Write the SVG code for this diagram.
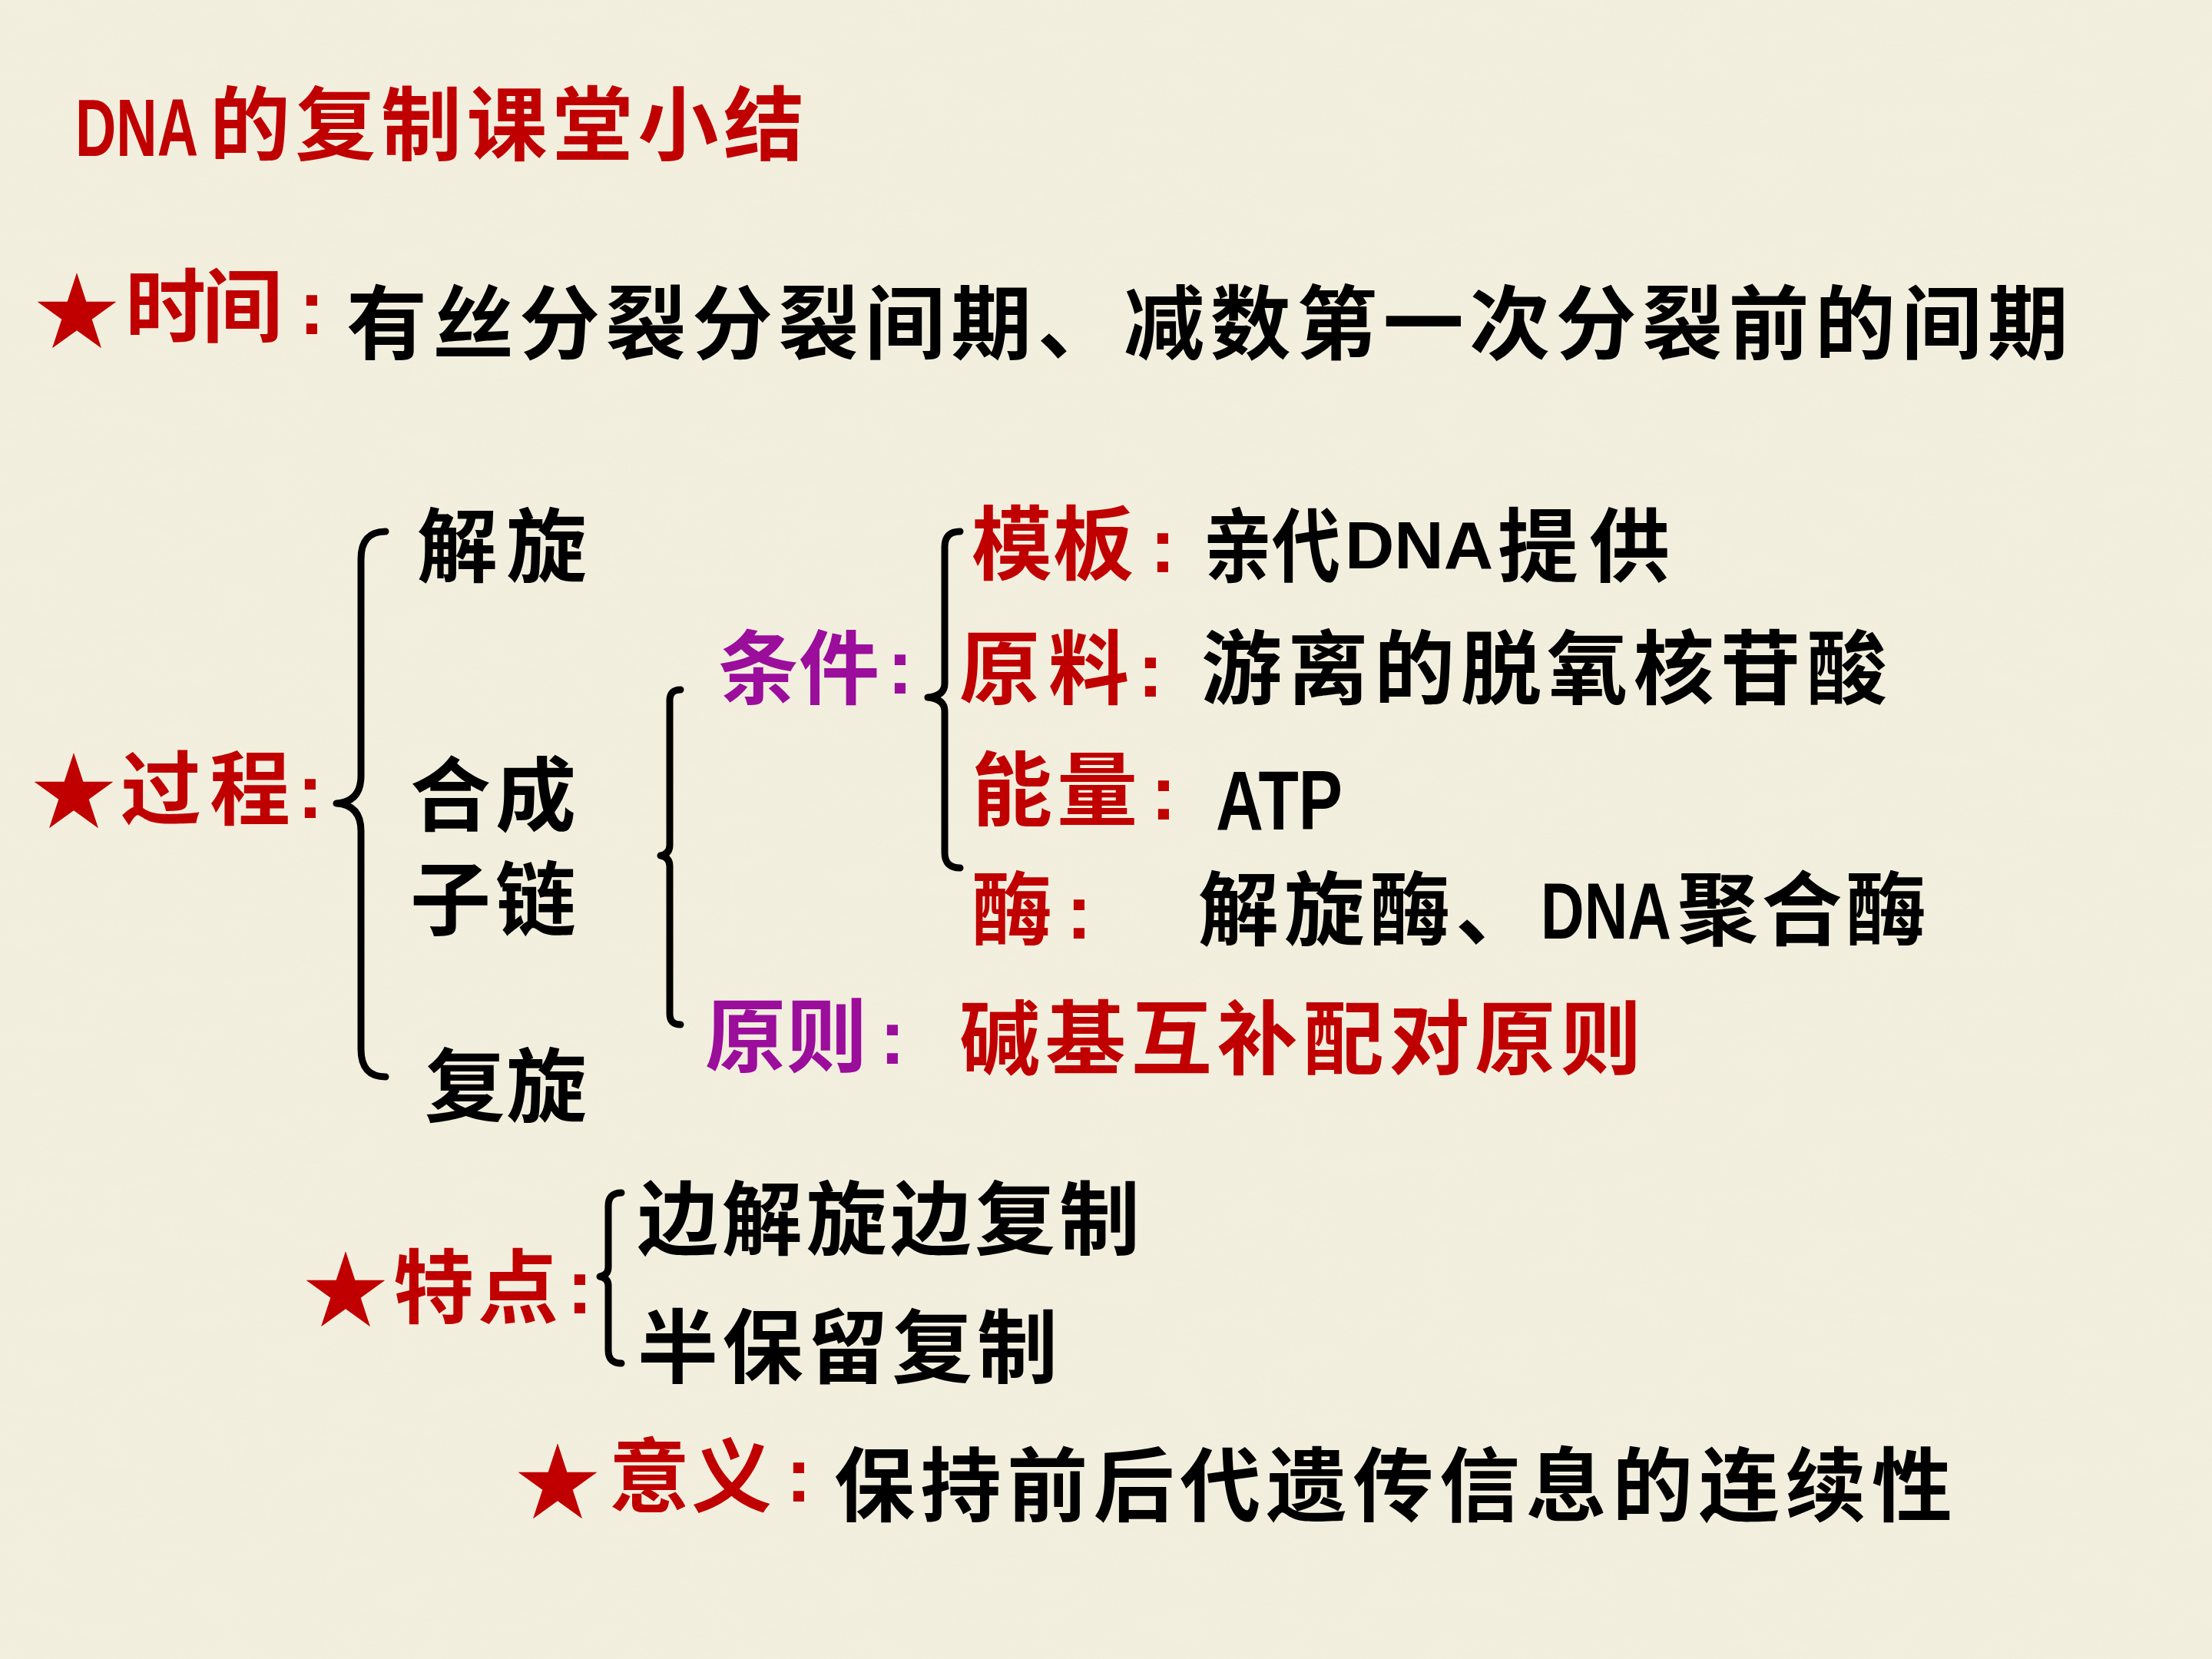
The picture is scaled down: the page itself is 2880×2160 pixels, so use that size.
<svg xmlns="http://www.w3.org/2000/svg" width="2880" height="2160" viewBox="0 0 2880 2160">
<style>
.cjk{font-family:"Noto Sans CJK SC","Noto Sans CJK TC",sans-serif;font-size:105px;font-weight:700}
.lat{font-family:"Liberation Sans",Arial,sans-serif;font-weight:700}
.col{font-family:"Liberation Sans",Arial,sans-serif;font-weight:700;font-size:100px;text-anchor:middle}
.star{font-family:"Noto Sans CJK SC","DejaVu Sans",sans-serif;font-size:110px;text-anchor:middle;dominant-baseline:central;fill:#c00000}
.red{fill:#c00000}
.blk{fill:#000}
.pur{fill:#9b0d9b}
.brace{fill:none;stroke:#000;stroke-width:9;stroke-linecap:round;stroke-linejoin:round}
</style>
<defs>
<filter id="paper" x="0" y="0" width="100%" height="100%">
<feTurbulence type="fractalNoise" baseFrequency="0.012 0.03" numOctaves="3" seed="4" result="n"/>
<feColorMatrix in="n" type="matrix" values="0 0 0 0 0.80  0 0 0 0 0.76  0 0 0 0 0.62  0 0 0 0.35 -0.05"/>
</filter>
</defs>
<rect x="0" y="0" width="2880" height="2160" fill="#f3efdf"/>
<rect x="0" y="0" width="2880" height="2160" filter="url(#paper)" opacity="0.35"/>

<g id="title">
<text class="cjk red"><tspan class="lat" x="98" y="203" font-size="106" textLength="160" lengthAdjust="spacingAndGlyphs">DNA</tspan><tspan x="273" y="200" textLength="774" lengthAdjust="spacing">的复制课堂小结</tspan></text>
</g>

<g id="time">
<text class="star" x="100" y="398">★</text>
<text class="cjk red" x="163" y="437" textLength="205" lengthAdjust="spacing">时间</text>
<text class="col red" x="406" y="435">:</text>
<text class="cjk blk" x="451" y="459" textLength="2242" lengthAdjust="spacing">有丝分裂分裂间期、减数第一次分裂前的间期</text>
</g>

<g id="process">
<text class="star" x="96" y="1023">★</text>
<text class="cjk red" x="157" y="1065" textLength="221" lengthAdjust="spacing">过程</text>
<text class="col red" x="404" y="1065">:</text>
</g>

<g id="jiexuan">
<text class="cjk blk" x="543" y="749" textLength="221" lengthAdjust="spacing">解旋</text>
</g>
<g id="hecheng">
<text class="cjk blk" letter-spacing="6"><tspan x="534" y="1073">合成</tspan><tspan x="534" y="1209">子链</tspan></text>
</g>
<g id="fuxuan">
<text class="cjk blk" x="553" y="1452" textLength="211" lengthAdjust="spacing">复旋</text>
</g>

<g id="tiaojian">
<text class="cjk pur" x="935" y="908" textLength="210" lengthAdjust="spacing">条件</text>
<text class="col pur" x="1172" y="903">:</text>
</g>

<g id="muban">
<text class="cjk red" x="1265" y="746" textLength="211" lengthAdjust="spacing">模板</text>
<text class="col red" x="1514" y="745">:</text>
<text class="cjk blk"><tspan x="1567" y="749" textLength="178" lengthAdjust="spacingAndGlyphs">亲代</tspan><tspan class="lat" x="1751" y="740" font-size="88" textLength="193" lengthAdjust="spacingAndGlyphs">DNA</tspan><tspan x="1950" y="749" textLength="224" lengthAdjust="spacing">提供</tspan></text>
</g>

<g id="yuanliao">
<text class="cjk red" x="1249" y="908" textLength="221" lengthAdjust="spacing">原料</text>
<text class="col red" x="1498" y="907">:</text>
<text class="cjk blk" x="1564" y="908" textLength="893" lengthAdjust="spacing">游离的脱氧核苷酸</text>
</g>

<g id="nengliang">
<text class="cjk red" x="1265" y="1066" textLength="216" lengthAdjust="spacing">能量</text>
<text class="col red" x="1515" y="1067">:</text>
<text class="lat blk" x="1583" y="1080" font-size="109" textLength="165" lengthAdjust="spacingAndGlyphs">ATP</text>
</g>

<g id="mei">
<text class="cjk red" x="1265" y="1222">酶</text>
<text class="col red" x="1405" y="1222">:</text>
<text class="cjk blk"><tspan x="1560" y="1222" textLength="440" lengthAdjust="spacing">解旋酶、</tspan><tspan class="lat" x="2006" y="1222" font-size="103" textLength="170" lengthAdjust="spacingAndGlyphs">DNA</tspan><tspan x="2184" y="1222" textLength="324" lengthAdjust="spacing">聚合酶</tspan></text>
</g>

<g id="yuanze">
<text class="cjk pur" x="918" y="1387" textLength="211" lengthAdjust="spacing">原则</text>
<text class="col pur" x="1162" y="1385">:</text>
<text class="cjk red" x="1249" y="1390" textLength="888" lengthAdjust="spacing">碱基互补配对原则</text>
</g>

<g id="tedian">
<text class="star" x="450" y="1672">★</text>
<text class="cjk red" x="512" y="1714" textLength="215" lengthAdjust="spacing">特点</text>
<text class="col red" x="755" y="1710">:</text>
</g>
<g id="bianjie">
<text class="cjk blk" x="830" y="1625" textLength="654" lengthAdjust="spacing">边解旋边复制</text>
</g>
<g id="banbaoliu">
<text class="cjk blk" x="830" y="1792" textLength="547" lengthAdjust="spacing">半保留复制</text>
</g>

<g id="yiyi">
<text class="star" x="726" y="1922">★</text>
<text class="cjk red" x="793" y="1960" textLength="212" lengthAdjust="spacing">意义</text>
<text class="col red" x="1040" y="1955">:</text>
<text class="cjk blk" x="1086" y="1972" textLength="1456" lengthAdjust="spacing">保持前后代遗传信息的连续性</text>
</g>

<g id="connectors">
<path class="brace" d="M502,692 Q470,692 470,728 L470,1010 Q470,1044 438,1046 Q470,1048 470,1082 L470,1366 Q470,1402 502,1402"/>
<path class="brace" d="M886,898 Q872,898 872,912 L872,1100 Q872,1112 860,1114 Q872,1116 872,1128 L872,1320 Q872,1334 886,1334"/>
<path class="brace" d="M1250,692 Q1230,692 1230,712 L1230,890 Q1230,906 1208,908 Q1230,910 1230,926 L1230,1110 Q1230,1130 1250,1130"/>
<path class="brace" d="M809,1553 Q792,1553 792,1570 L792,1650 Q792,1660 781,1662 Q792,1664 792,1674 L792,1758 Q792,1775 809,1775"/>
</g>
</svg>
